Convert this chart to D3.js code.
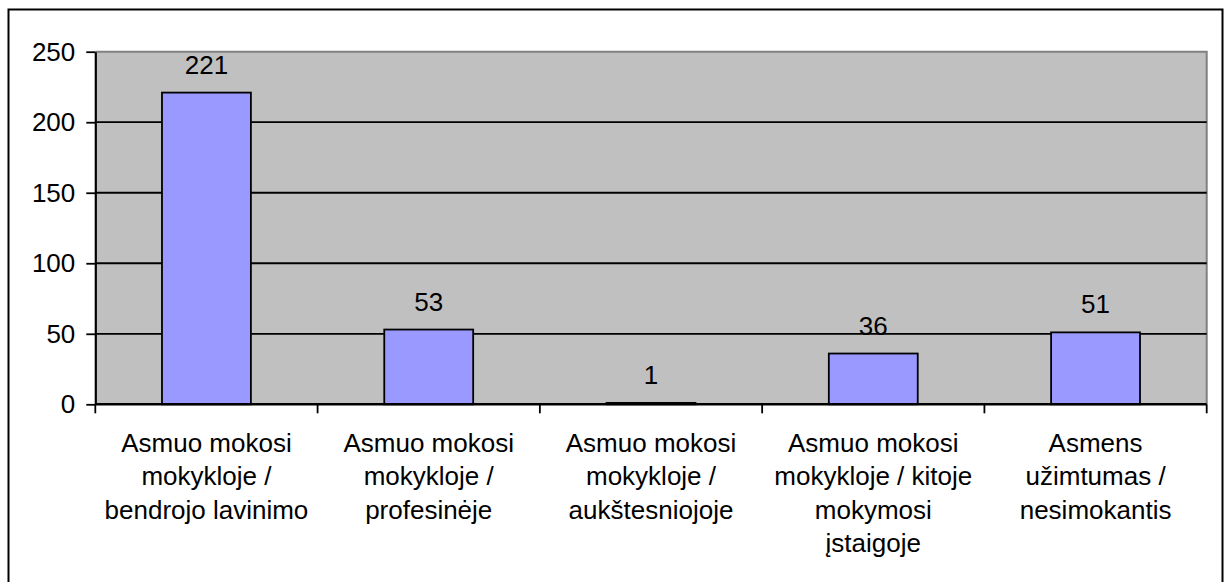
<!DOCTYPE html>
<html lang="lt">
<head>
<meta charset="utf-8">
<title>Asmenų užimtumas</title>
<style>
body { margin: 0; background: #fff; }
text { font-family: "Liberation Sans", Arial, sans-serif; fill: #000; }
</style>
</head>
<body>
<svg width="1224" height="582"></svg>
<script src="https://cdn.jsdelivr.net/npm/d3@7"></script>
<script>

const categories = [
  ['Asmuo mokosi', 'mokykloje /', 'bendrojo lavinimo'],
  ['Asmuo mokosi', 'mokykloje /', 'profesinėje'],
  ['Asmuo mokosi', 'mokykloje /', 'aukštesniojoje'],
  ['Asmuo mokosi', 'mokykloje / kitoje', 'mokymosi', 'įstaigoje'],
  ['Asmens', 'užimtumas /', 'nesimokantis']
];
const values = [221, 53, 1, 36, 51];
const yTicks = [0, 50, 100, 150, 200, 250];

const FS = 26;

const svg = d3.select('svg'),
    margin = {top: 51.7, right: 17.3, bottom: 177.7, left: 95.3},
    width = +svg.attr('width') - margin.left - margin.right,
    height = +svg.attr('height') - margin.top - margin.bottom;

// outer chart frame (bottom edge runs off the picture)
svg.append('rect')
  .attr('x', 8.5).attr('y', 9.5)
  .attr('width', 1214).attr('height', 600)
  .attr('fill', 'none')
  .attr('stroke', '#000')
  .attr('stroke-width', 2);

const idx = values.map((d, i) => i);
const x = d3.scaleBand().domain(idx).range([0, width]).paddingInner(0.6).paddingOuter(0.3);
// band boundaries for the category ticks
const xb = d3.scaleBand().domain(idx).range([0, width]);
const y = d3.scaleLinear().domain([0, 250]).range([height, 0]);

const g = svg.append('g')
  .attr('transform', 'translate(' + margin.left + ',' + margin.top + ')');

// plot background
g.append('rect')
  .attr('width', width).attr('height', height)
  .attr('fill', '#c0c0c0');
g.append('path')
  .attr('d', 'M0,0H' + width + 'V' + height)
  .attr('fill', 'none')
  .attr('stroke', '#808080')
  .attr('stroke-width', 2);

// gridlines
g.append('g')
  .selectAll('line')
  .data(yTicks.slice(1, -1))
  .enter().append('line')
    .attr('x1', 0).attr('x2', width)
    .attr('y1', d => y(d)).attr('y2', d => y(d))
    .attr('stroke', '#000')
    .attr('stroke-width', 1.8);

// bars
g.append('g')
  .selectAll('rect')
  .data(values)
  .enter().append('rect')
    .attr('x', (d, i) => x(i))
    .attr('y', d => y(d))
    .attr('width', x.bandwidth())
    .attr('height', d => height - y(d))
    .attr('fill', '#9999ff')
    .attr('stroke', '#000')
    .attr('stroke-width', 1.8);

// value labels
g.append('g')
  .selectAll('text')
  .data(values)
  .enter().append('text')
    .attr('x', (d, i) => x(i) + x.bandwidth() / 2)
    .attr('y', d => y(d) - 19)
    .attr('text-anchor', 'middle')
    .attr('font-size', FS)
    .text(d => d);

// y axis
const yAxis = g.append('g')
  .call(d3.axisLeft(y).tickValues(yTicks).tickSize(9).tickPadding(11).tickSizeOuter(0));
yAxis.select('.domain').attr('stroke-width', 2.2);
yAxis.selectAll('.tick line').attr('stroke-width', 1.8);
yAxis.selectAll('.tick text')
  .attr('font-size', FS)
  .attr('font-family', '"Liberation Sans", Arial, sans-serif')
  .attr('fill', '#000');

// x axis: ticks at category boundaries
const xAxis = g.append('g')
  .attr('transform', 'translate(0,' + height + ')');
xAxis.append('line')
  .attr('x1', 0).attr('x2', width)
  .attr('stroke', '#000').attr('stroke-width', 2.4);
xAxis.selectAll('line.tk')
  .data(idx.concat([idx.length]))
  .enter().append('line')
    .attr('class', 'tk')
    .attr('x1', i => i < idx.length ? xb(i) : width)
    .attr('x2', i => i < idx.length ? xb(i) : width)
    .attr('y1', 0).attr('y2', 9)
    .attr('stroke', '#000').attr('stroke-width', 1.8);

const labels = xAxis.selectAll('text.cat')
  .data(categories)
  .enter().append('text')
    .attr('class', 'cat')
    .attr('text-anchor', 'middle')
    .attr('font-size', FS)
    .attr('transform', (d, i) => 'translate(' + (xb(i) + xb.bandwidth() / 2) + ',47.5)');
labels.selectAll('tspan')
  .data(d => d)
  .enter().append('tspan')
    .attr('x', 0)
    .attr('y', (d, j) => j * 33.5)
    .text(d => d);

</script>
</body>
</html>
